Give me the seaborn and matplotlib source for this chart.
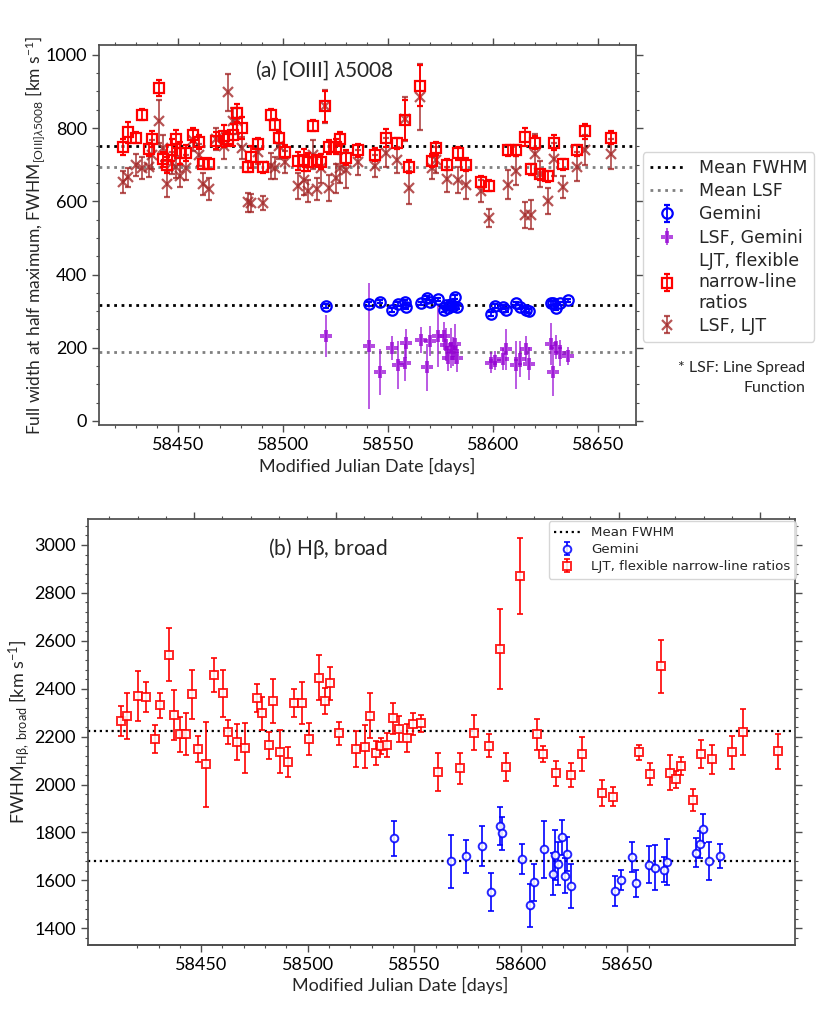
import numpy as np
import matplotlib
matplotlib.use('Agg')
import matplotlib.pyplot as plt
from matplotlib.ticker import MultipleLocator, AutoMinorLocator, FixedLocator
from matplotlib.lines import Line2D
import seaborn as sns

# ---- data ----
# LJT epochs (MJD)
ljt_mjd = [58424.2, 58426.2, 58430.1, 58433.0, 58436.2, 58438.0, 58441.2, 58443.0, 58445.1, 58447.2,
           58449.2, 58451.2, 58454.1, 58457.1, 58460.1, 58462.1, 58465.1, 58468.0, 58472.2, 58474.1,
           58476.3, 58478.0, 58480.4, 58483.3, 58485.1, 58488.0, 58490.4, 58494.2, 58496.3, 58498.0,
           58501.2, 58507.1, 58510.2, 58512.2, 58514.2, 58516.1, 58518.3, 58520.2, 58522.2, 58525.2,
           58527.2, 58530.2, 58536.0, 58544.0, 58548.9, 58554.1, 58558.0, 58560.0, 58565.1, 58571.0,
           58573.1, 58577.9, 58583.1, 58587.0, 58594.1, 58598.0, 58607.2, 58610.9, 58615.0, 58618.0,
           58620.1, 58622.1, 58626.2, 58629.0, 58633.1, 58640.0, 58643.9, 58656.1]

# [OIII] FWHM, LJT
ljt_oiii = [749, 788, 774, 836, 742, 770, 909, 715, 700, 739,
            771, 733, 733, 781, 762, 702, 702, 766, 779, 770,
            781, 842, 800, 695, 722, 757, 693, 836, 809, 774,
            736, 711, 713, 708, 806, 712, 708, 859, 748, 749,
            770, 719, 739, 727, 772, 759, 822, 695, 915, 711,
            745, 700, 731, 700, 654, 642, 739, 739, 775, 688,
            760, 674, 668, 760, 701, 739, 791, 774]
ljt_oiii_err = [22, 28, 15, 15, 18, 22, 22, 20, 22, 30,
                25, 30, 22, 18, 20, 15, 15, 22, 30, 20,
                30, 25, 30, 15, 30, 15, 15, 15, 15, 15,
                18, 25, 30, 25, 15, 15, 20, 42, 20, 20,
                18, 20, 18, 18, 25, 15, 55, 18, 56, 18,
                18, 15, 18, 18, 15, 15, 15, 15, 25, 15,
                18, 15, 15, 20, 15, 15, 20, 18]

# line spread function, LJT
ljt_lsf = [654, 665, 700, 690, 695, 727, 818, 745, 648, 704,
           693, 668, 692, 768, 727, 648, 633, 770, 751, 898,
           820, 820, 745, 597, 595, 736, 595, 697, 690, 751,
           708, 642, 657, 629, 727, 633, 690, 859, 636, 663,
           690, 686, 706, 697, 733, 713, 824, 637, 886, 690,
           713, 660, 658, 645, 627, 554, 645, 684, 563, 563,
           730, 674, 601, 715, 640, 695, 740, 729]
ljt_lsf_err = [30, 25, 30, 30, 30, 40, 60, 35, 35, 30,
               30, 30, 35, 30, 30, 30, 30, 30, 35, 50,
               35, 35, 30, 25, 25, 35, 20, 35, 30, 35,
               30, 35, 40, 30, 40, 30, 40, 45, 35, 40,
               40, 50, 35, 30, 40, 35, 60, 45, 90, 30,
               35, 35, 35, 40, 30, 25, 40, 40, 35, 40,
               55, 35, 35, 45, 30, 40, 40, 40]

# H-beta broad FWHM, LJT
ljt_hb = [2265, 2287, 2369, 2366, 2190, 2330, 2542, 2290, 2210, 2210,
          2376, 2148, 2084, 2457, 2380, 2218, 2178, 2153, 2360, 2297,
          2163, 2348, 2136, 2095, 2341, 2341, 2190, 2446, 2348, 2422,
          2213, 2148, 2157, 2287, 2132, 2162, 2163, 2277, 2231, 2195,
          2252, 2255, 2052, 2067, 2216, 2162, 2565, 2074, 2870, 2209,
          2126, 2046, 2040, 2127, 1965, 1949, 2134, 2043, 2494, 2050,
          2021, 2078, 1935, 2127, 2105, 2134, 2219, 2139]
ljt_hb_err = [63, 95, 103, 63, 60, 54, 111, 104, 73, 87,
              103, 56, 178, 70, 97, 50, 74, 105, 59, 68,
              56, 93, 90, 63, 59, 87, 65, 95, 55, 68,
              49, 75, 90, 94, 50, 33, 50, 65, 54, 59,
              45, 36, 81, 63, 73, 48, 167, 58, 158, 66,
              33, 53, 51, 70, 54, 40, 33, 45, 111, 72,
              35, 38, 47, 58, 62, 68, 95, 73]

# Gemini epochs (MJD)
gem_mjd = [58520.7, 58540.8, 58546.0, 58551.8, 58554.8, 58557.9, 58558.8, 58565.8, 58568.7, 58569.9,
           58573.7, 58576.8, 58577.6, 58578.6, 58579.8, 58581.0, 58581.8, 58583.0, 58598.8, 58600.8,
           58604.6, 58606.0, 58610.7, 58612.8, 58615.8, 58616.9, 58627.4, 58628.6, 58629.8, 58631.7,
           58635.7]

gem_oiii = [314, 319, 326, 303, 320, 326, 311, 321, 337, 326,
            332, 303, 317, 308, 320, 315, 338, 312, 292, 314,
            311, 303, 321, 311, 303, 301, 323, 323, 308, 321,
            329]
gem_oiii_err = [5] * 31

gem_lsf = [232, 205, 133, 199, 153, 159, 212, 221, 146, 217,
           232, 232, 208, 171, 199, 190, 210, 171, 159, 165,
           168, 196, 153, 168, 196, 156, 210, 135, 201, 185,
           177]
gem_lsf_err = [57, 172, 63, 33, 65, 51, 40, 35, 65, 41,
               86, 39, 45, 35, 55, 40, 54, 36, 29, 27,
               30, 56, 65, 49, 36, 45, 57, 67, 33, 35,
               25]

gem_hb = [1775, 1679, 1700, 1743, 1552, 1827, 1796, 1690, 1495, 1591,
          1729, 1626, 1705, 1670, 1779, 1620, 1709, 1576, 1555, 1601,
          1696, 1587, 1666, 1652, 1645, 1677, 1715, 1750, 1815, 1680,
          1700]
gem_hb_err = [73, 110, 68, 84, 80, 79, 70, 63, 88, 77,
              120, 88, 104, 90, 74, 73, 71, 91, 63, 42,
              63, 58, 78, 94, 54, 97, 60, 55, 60, 80,
              50]

# mean levels drawn as horizontal lines
mean_ljt_oiii = 750
mean_ljt_lsf = 695
mean_gem_oiii = 316
mean_gem_lsf = 187
mean_ljt_hb = 2222
mean_gem_hb = 1680

# labelled ticks under panel (b)
b_ticks = [58450, 58500, 58550, 58600, 58650]
b_minor = [58420, 58430, 58440, 58460, 58470, 58480, 58490, 58510, 58520, 58530, 58540,
           58560, 58570, 58580, 58590, 58610, 58620, 58630, 58640, 58660]

# ---- style ----
sns.set_theme(style='ticks')
plt.rcParams['font.family'] = ['Lato', 'DejaVu Sans']
plt.rcParams['mathtext.fontset'] = 'custom'
plt.rcParams['mathtext.rm'] = 'Lato'
plt.rcParams['mathtext.it'] = 'Lato:italic'
plt.rcParams['axes.edgecolor'] = '0.3'
plt.rcParams['xtick.color'] = '0.3'
plt.rcParams['ytick.color'] = '0.3'
plt.rcParams['xtick.labelcolor'] = 'black'
plt.rcParams['ytick.labelcolor'] = 'black'

fig = plt.figure(figsize=(8.3, 10.13), dpi=100)
ax1 = fig.add_axes([0.1193, 0.5805, 0.647, 0.3751])
ax2 = fig.add_axes([0.106, 0.0671, 0.852, 0.4205])

# ---- panel (a) ----
ax1.axhline(mean_ljt_oiii, color='black', ls=':', lw=2, zorder=1)
ax1.axhline(mean_gem_oiii, color='black', ls=':', lw=2, zorder=1)
ax1.axhline(mean_ljt_lsf, color='gray', ls=':', lw=2, zorder=1)
ax1.axhline(mean_gem_lsf, color='gray', ls=':', lw=2, zorder=1)

e_lsf_ljt = ax1.errorbar(ljt_mjd, ljt_lsf, yerr=ljt_lsf_err, fmt='x', color='brown', alpha=0.8,
                         ms=7, mew=1.6, elinewidth=1.3, capsize=2.5, zorder=2)
e_ljt = ax1.errorbar(ljt_mjd, ljt_oiii, yerr=ljt_oiii_err, fmt='s', color='red', mfc='none',
                     ms=7.5, mew=1.6, elinewidth=1.3, capsize=2.5, zorder=3)
e_lsf_gem = ax1.errorbar(gem_mjd, gem_lsf, yerr=gem_lsf_err, fmt='P', color='darkviolet', alpha=0.7,
                         ms=8, mew=0, elinewidth=1.3, capsize=2.5, zorder=2)
e_gem = ax1.errorbar(gem_mjd, gem_oiii, yerr=gem_oiii_err, fmt='o', color='blue', mfc='none',
                     ms=7.5, mew=1.6, elinewidth=1.3, capsize=2.5, zorder=3)

ax1.set_xlim(58412.6, 58668)
ax1.set_ylim(-11, 1027)
ax1.xaxis.set_major_locator(MultipleLocator(50))
ax1.xaxis.set_minor_locator(MultipleLocator(10))
ax1.yaxis.set_major_locator(MultipleLocator(200))
ax1.yaxis.set_minor_locator(MultipleLocator(50))
ax1.tick_params(which='both', direction='out', top=True, right=True, labelsize=13)
ax1.tick_params(which='major', length=5, width=1)
ax1.tick_params(which='minor', length=2.5, width=0.8)
ax1.set_xlabel('Modified Julian Date [days]', fontsize=13)
ax1.set_ylabel(r'Full width at half maximum, FWHM$_{\mathrm{[OIII]}\lambda5008}$ [km s$^{\mathrm{-1}}$]',
               fontsize=12.5, labelpad=-1)
ax1.text(0.29, 0.935, r'(a) [OIII] $\lambda$5008', transform=ax1.transAxes, fontsize=15,
         va='center')

h_mean = Line2D([], [], color='black', ls=':', lw=2)
h_lsf = Line2D([], [], color='gray', ls=':', lw=2)
ax1.legend([h_mean, h_lsf, e_gem, e_lsf_gem, e_ljt, e_lsf_ljt],
           ['Mean FWHM', 'Mean LSF', 'Gemini', 'LSF, Gemini',
            'LJT, flexible\nnarrow-line\nratios', 'LSF, LJT'],
           loc='upper left', bbox_to_anchor=(1.013, 0.718), borderaxespad=0,
           prop={'family': 'DejaVu Sans', 'size': 12.5},
           handlelength=2.0, labelspacing=0.3, borderpad=0.4, handletextpad=0.8, frameon=True)
fig.text(0.97, 0.644, '* LSF: Line Spread\nFunction', ha='right', va='top', fontsize=11.5,
         linespacing=1.55)

# ---- panel (b) ----
ax2.axhline(mean_ljt_hb, color='black', ls=':', lw=1.6, zorder=1)
ax2.axhline(mean_gem_hb, color='black', ls=':', lw=1.6, zorder=1)
b_gem = ax2.errorbar(gem_mjd, gem_hb, yerr=gem_hb_err, fmt='o', color='blue', mfc='white',
                     ms=5.5, mew=1.4, elinewidth=1.4, capsize=2.5, zorder=3, alpha=0.85)
b_ljt = ax2.errorbar(ljt_mjd, ljt_hb, yerr=ljt_hb_err, fmt='s', color='red', mfc='white',
                     ms=6, mew=1.4, elinewidth=1.4, capsize=2.5, zorder=3, alpha=0.85)

ax2.set_xlim(58412.5, 58662.3)
ax2.set_ylim(1330, 3108)
ax2.xaxis.set_major_locator(MultipleLocator(50))
ax2.xaxis.set_minor_locator(MultipleLocator(10))
ax2.xaxis.set_ticks_position('top')
ax2.tick_params(axis='x', which='both', labeltop=False, labelbottom=False)
ax2.yaxis.set_major_locator(MultipleLocator(200))
ax2.yaxis.set_minor_locator(AutoMinorLocator(5))
ax2.tick_params(axis='y', which='both', right=True, labelsize=13)
ax2.tick_params(which='both', direction='out')
ax2.tick_params(which='major', length=5, width=1)
ax2.tick_params(which='minor', length=2.5, width=0.8)

sec = ax2.secondary_xaxis('bottom', functions=(lambda t: 58446.7 + 1.3286 * (t - 58450),
                                                lambda s: 58450 + (s - 58446.7) / 1.3286))
sec.xaxis.set_major_locator(FixedLocator(b_ticks))
sec.xaxis.set_minor_locator(FixedLocator(b_minor))
sec.tick_params(which='both', direction='out', labelsize=13)
sec.tick_params(which='major', length=5, width=1)
sec.tick_params(which='minor', length=2.5, width=0.8)
sec.set_xlabel('Modified Julian Date [days]', fontsize=13)
sec.xaxis.set_label_coords(0.441, -0.074, transform=ax2.transAxes)
ax2.set_ylabel(r'FWHM$_{\mathrm{H\beta,\ broad}}$ [km s$^{\mathrm{-1}}$]', fontsize=13, labelpad=2)
ax2.text(0.255, 0.93, r'(b) H$\mathrm{\beta}$, broad', transform=ax2.transAxes, fontsize=15,
         va='center')

ax2.legend([Line2D([], [], color='black', ls=':', lw=1.6), b_gem, b_ljt],
           ['Mean FWHM', 'Gemini', 'LJT, flexible narrow-line ratios'],
           loc='upper right', bbox_to_anchor=(1.004, 1.0), borderaxespad=0.15,
           prop={'family': 'DejaVu Sans', 'size': 9.6},
           handlelength=2.0, labelspacing=0.3, frameon=True)

fig.savefig('out.png', dpi=100)
